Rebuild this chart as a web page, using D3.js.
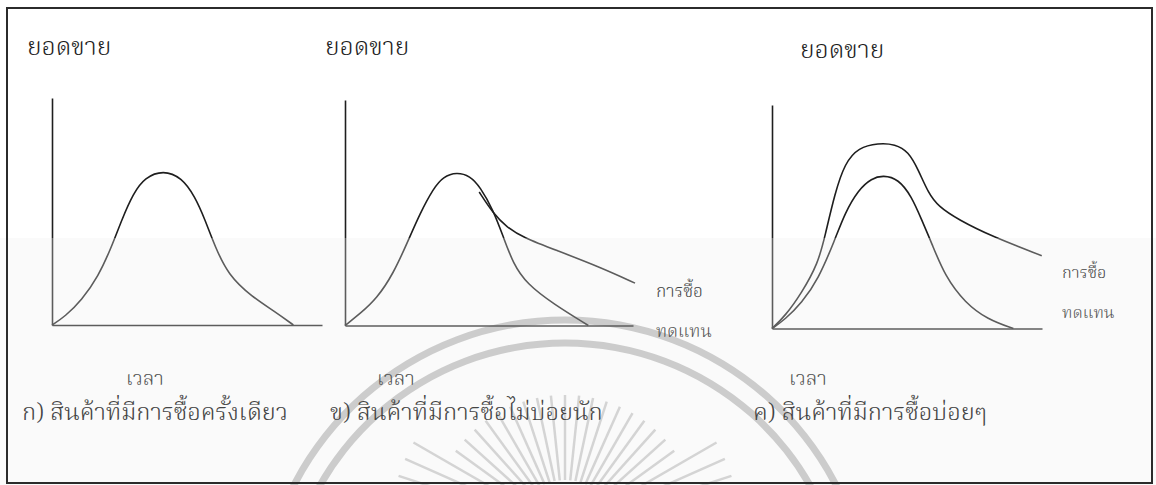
<!DOCTYPE html>
<html>
<head>
<meta charset="utf-8">
<script src="https://cdn.jsdelivr.net/npm/d3@7"></script>
<style>
  html, body { margin: 0; padding: 0; background: #ffffff; }
  svg { display: block; }
  text { font-family: "Noto Serif Thai", "Noto Sans Thai", "Norasi", "Loma", "Garuda", "DejaVu Sans", serif; font-weight: 300; }
</style>
</head>
<body>
<svg id="chart" width="1156" height="485"></svg>
<script>
// ---------- data (time, sales), axis units 0..10 ----------
const panelCaptions = ["ก) สินค้าที่มีการซื้อครั้งเดียว", "ข) สินค้าที่มีการซื้อไม่บ่อยนัก", "ค) สินค้าที่มีการซื้อบ่อยๆ"];
const yAxisLabel = "ยอดขาย";
const xAxisLabel = "เวลา";
const replacementLabel = ["การซื้อ", "ทดแทน"];

// ก) one-time purchase
const onceTime  = [0, 0.48, 1.10, 1.71, 2.21, 2.58, 3.01, 3.44, 4.12, 4.80, 5.30, 5.67, 6.04, 6.53, 7.40, 8.26, 8.94];
const onceSales = [0, 0.37, 1.10, 2.13, 3.45, 4.63, 5.80, 6.50, 6.82, 6.50, 5.65, 4.63, 3.45, 2.20, 1.25, 0.59, 0];

// ข) infrequent purchase
const infreqTime  = [0, 0.52, 1.10, 1.68, 2.20, 2.60, 3.07, 3.41, 3.88, 4.34, 4.69, 5.15, 5.50, 5.84, 6.31, 7.23, 8.45];
const infreqSales = [0, 0.52, 1.19, 2.30, 3.78, 4.96, 6.08, 6.60, 6.80, 6.63, 6.15, 5.11, 3.92, 2.74, 1.85, 0.96, 0];
const infreqReplTime  = [4.66, 5.15, 5.61, 6.19, 7.35, 8.85, 10.07];
const infreqReplSales = [5.92, 4.96, 4.37, 3.90, 3.33, 2.59, 1.88];

// ค) frequent purchase
const freqTime  = [0, 0.48, 1.10, 1.71, 2.33, 2.70, 3.20, 3.69, 4.12, 4.68, 5.17, 5.54, 5.91, 6.41, 7.15, 7.99, 8.94];
const freqSales = [0, 0.40, 1.15, 2.19, 3.97, 5.17, 6.21, 6.72, 6.86, 6.69, 5.91, 4.87, 3.83, 2.33, 1.15, 0.40, 0];
const freqReplTime  = [0, 0.48, 1.10, 1.71, 1.96, 2.33, 2.70, 3.20, 3.94, 4.56, 5.05, 5.42, 5.79, 6.16, 6.90, 8.14, 9.99];
const freqReplSales = [0, 0.55, 1.59, 2.93, 4.12, 6.06, 7.40, 8.10, 8.30, 8.25, 7.92, 7.10, 6.06, 5.46, 4.87, 4.12, 3.26];

// ---------- layout ----------
const svg = d3.select("#chart");
const W = 1156, H = 485;

const zip = (xs, ys) => xs.map((x, i) => ({ t: x, s: ys[i] }));

const panels = [
  { x0: 52,  x1: 322,  y0: 325,   y1: 98,  series: [zip(onceTime, onceSales)], yLab: [27, 55], xLab: [145, 385], cap: [22, 420], repl: null },
  { x0: 345, x1: 633,  y0: 325.5, y1: 100, series: [zip(infreqTime, infreqSales), zip(infreqReplTime, infreqReplSales)], yLab: [325, 55], xLab: [396, 385], cap: [330, 420], repl: { x: 656, y: [297, 337], size: 17.5 } },
  { x0: 772, x1: 1042, y0: 328.5, y1: 105, series: [zip(freqTime, freqSales), zip(freqReplTime, freqReplSales)], yLab: [800, 58], xLab: [808, 385], cap: [753, 420], repl: { x: 1062, y: [278, 318], size: 16.5 } }
];

// scan tone: lower half of the page is slightly greyer, ink lighter
const defs = svg.append("defs");
const grad = defs.append("linearGradient").attr("id", "ink")
  .attr("gradientUnits", "userSpaceOnUse").attr("x1", 0).attr("y1", 0).attr("x2", 0).attr("y2", H);
[[0, "#1e1e1e"], [238 / H, "#1e1e1e"], [238 / H, "#5c5c5c"], [1, "#5c5c5c"]].forEach(([o, c]) =>
  grad.append("stop").attr("offset", o).attr("stop-color", c));
svg.append("rect").attr("x", 0).attr("y", 238).attr("width", W).attr("height", H - 238).attr("fill", "#fafafa");

// faint watermark (background emblem)
const wm = svg.append("g").attr("transform", "translate(565,625)");
[305, 282].forEach(r => {
  wm.append("path")
    .attr("d", d3.arc()({ innerRadius: r - 3.5, outerRadius: r + 3.5, startAngle: -Math.PI * 0.46, endAngle: Math.PI * 0.46 }))
    .attr("fill", "#cccccc");
});
const rays = svg.append("g").attr("transform", "translate(565,530)");
d3.range(-78, 79, 6).forEach(a => {
  const rad = (a - 90) * Math.PI / 180;
  const len = Math.abs(a) > 55 ? 175 : 135;
  rays.append("line")
    .attr("x1", Math.cos(rad) * 50).attr("y1", Math.sin(rad) * 50)
    .attr("x2", Math.cos(rad) * len).attr("y2", Math.sin(rad) * len)
    .attr("stroke", "#d4d4d4").attr("stroke-width", 2.5);
});

// border
svg.append("rect").attr("x", 7).attr("y", 8).attr("width", 1145).attr("height", 475)
  .attr("fill", "none").attr("stroke", "#2b2b2b").attr("stroke-width", 2);

panels.forEach((p, i) => {
  const x = d3.scaleLinear().domain([0, 10]).range([p.x0, p.x1]);
  const y = d3.scaleLinear().domain([0, 10]).range([p.y0, p.y1]);
  const g = svg.append("g");

  const xAxis = d3.axisBottom(x).ticks(0).tickSizeOuter(0).tickFormat("");
  const yAxis = d3.axisLeft(y).ticks(0).tickSizeOuter(0).tickFormat("");
  g.append("g").attr("transform", `translate(0,${p.y0})`).call(xAxis)
    .select(".domain").attr("stroke", "#5c5c5c").attr("stroke-width", 1.6);
  g.append("g").attr("transform", `translate(${p.x0},0)`).call(yAxis)
    .select(".domain").attr("stroke", "url(#ink)").attr("stroke-width", 1.6);

  const line = d3.line().x(d => x(d.t)).y(d => y(d.s)).curve(d3.curveBasis);
  p.series.forEach(s => {
    g.append("path").datum(s).attr("d", line)
      .attr("fill", "none").attr("stroke", "url(#ink)").attr("stroke-width", 1.6);
  });

  g.append("text").attr("x", p.yLab[0]).attr("y", p.yLab[1]).attr("font-size", 25).attr("fill", "#1e1e1e").text(yAxisLabel);
  g.append("text").attr("x", p.xLab[0]).attr("y", p.xLab[1]).attr("text-anchor", "middle").attr("font-size", 20).attr("fill", "#555").text(xAxisLabel);
  g.append("text").attr("x", p.cap[0]).attr("y", p.cap[1]).attr("font-size", 24).attr("fill", "#444").text(panelCaptions[i]);
  if (p.repl) {
    replacementLabel.forEach((t, k) => {
      g.append("text").attr("x", p.repl.x).attr("y", p.repl.y[k]).attr("font-size", p.repl.size)
        .attr("fill", k === 0 ? "#444" : "#555").text(t);
    });
  }
});
</script>
</body>
</html>
